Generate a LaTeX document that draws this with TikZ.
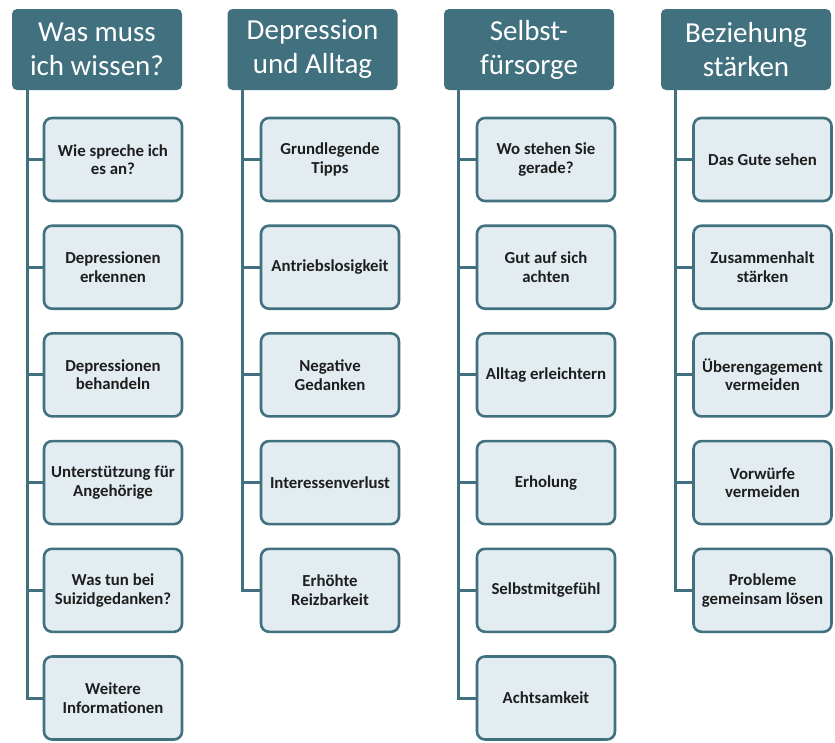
\documentclass[tikz,border=0pt]{standalone}
\usepackage{fontspec}
\setmainfont{Carlito}
\usetikzlibrary{positioning}
\definecolor{headteal}{HTML}{41707F}
\definecolor{boxblue}{HTML}{E3EDF1}
\definecolor{boxtext}{HTML}{1E1E1E}
\tikzset{
  head/.style={rectangle, rounded corners=5pt, fill=headteal, text=white,
               minimum width=170pt, minimum height=81pt, align=center,
               font=\fontsize{29}{34}\selectfont, inner sep=0pt},
  item/.style={rectangle, rounded corners=8pt, draw=headteal, line width=2.6pt,
               fill=boxblue, text=boxtext, minimum width=138pt, minimum height=83pt,
               align=center, font=\fontsize{16.8}{18.5}\selectfont\bfseries, inner sep=0pt},
  link/.style={draw=headteal, line width=3pt}
}
\begin{document}
\begin{tikzpicture}[x=1pt, y=-1pt]
\useasboundingbox (0,0) rectangle (835,742);
%
% column heads
\node[head] (h1) at (97,49.5)  {Was muss\\ich wissen?};
\node[head] (h2) at (312.5,49.5) {Depression\\und Alltag};
\node[head] (h3) at (529,49.5) {Selbst-\\fürsorge};
\node[head] (h4) at (746,49.5) {Beziehung\\stärken};
%
% items
\foreach [count=\i] \t in {{Wie spreche ich\\es an?}, {Depressionen\\erkennen},
    {Depressionen\\behandeln}, {Unterstützung für\\Angehörige},
    {Was tun bei\\Suizidgedanken?}, {Weitere\\Informationen}}
  \node[item] (a\i) at (113, 51.8+107.7*\i) {\t};
\foreach [count=\i] \t in {{Grundlegende\\Tipps}, Antriebslosigkeit,
    {Negative\\Gedanken}, Interessenverlust, {Erhöhte\\Reizbarkeit}}
  \node[item] (b\i) at (330, 51.8+107.7*\i) {\t};
\foreach [count=\i] \t in {{Wo stehen Sie\\gerade?}, {Gut auf sich\\achten},
    Alltag erleichtern, Erholung, Selbstmitgefühl, Achtsamkeit}
  \node[item] (c\i) at (546, 51.8+107.7*\i) {\t};
\foreach [count=\i] \t in {Das Gute sehen, {Zusammenhalt\\stärken},
    {Überengagement\\vermeiden}, {Vorwürfe\\vermeiden}, {Probleme\\gemeinsam lösen}}
  \node[item] (d\i) at (762.5, 51.8+107.7*\i) {\t};
%
% connectors
\foreach \i in {1,...,6} \draw[link] ([xshift=16pt]h1.south west) |- (a\i.west);
\foreach \i in {1,...,5} \draw[link] ([xshift=15pt]h2.south west) |- (b\i.west);
\foreach \i in {1,...,6} \draw[link] ([xshift=15pt]h3.south west) |- (c\i.west);
\foreach \i in {1,...,5} \draw[link] ([xshift=15pt]h4.south west) |- (d\i.west);
\end{tikzpicture}
\end{document}
